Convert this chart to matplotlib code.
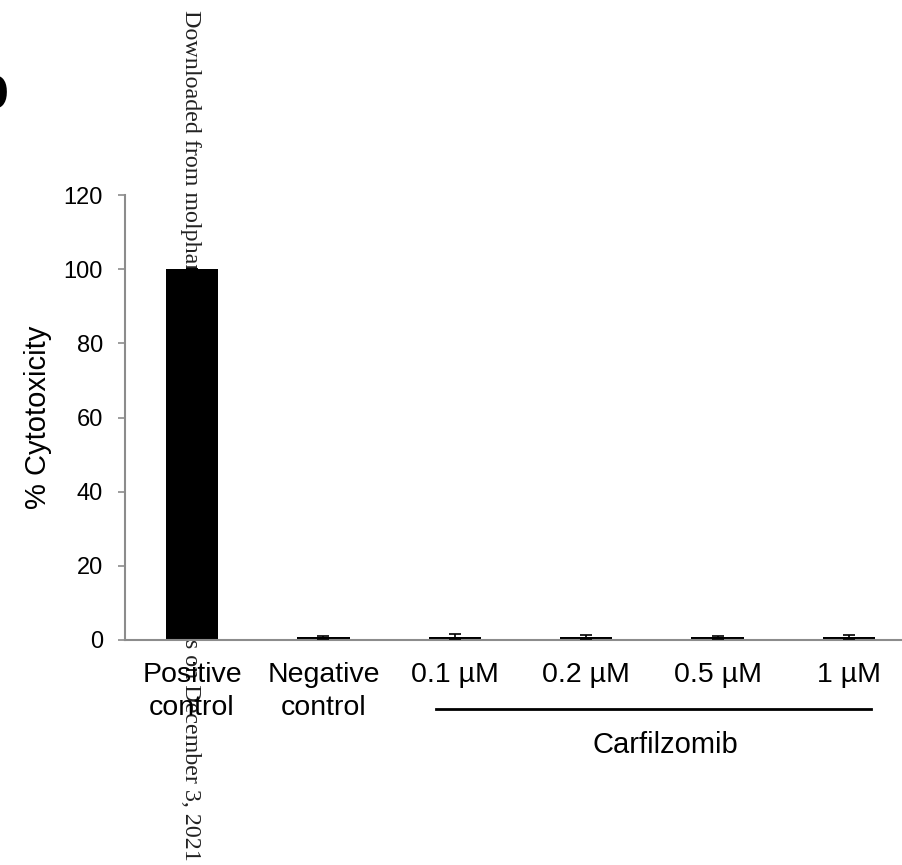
import matplotlib.pyplot as plt
import matplotlib.transforms as mtransforms

# data
categories = ["Positive\ncontrol", "Negative\ncontrol", "0.1 µM", "0.2 µM", "0.5 µM", "1 µM"]
cytotox = [100, 0.8, 0.9, 0.8, 0.7, 0.8]
cytotox_err = [0, 0.4, 0.6, 0.5, 0.3, 0.5]
yticks = [0, 20, 40, 60, 80, 100, 120]

plt.rcParams['font.family'] = ['Liberation Sans', 'DejaVu Sans']

fig = plt.figure(figsize=(9.02, 8.65), dpi=100)
ax = fig.add_axes([125 / 902, 225 / 865, 791 / 902, 445 / 865])

x = list(range(len(categories)))
ax.bar(x, cytotox, width=0.4, color="black", zorder=2)
ax.errorbar(x, cytotox, yerr=cytotox_err, fmt="none", ecolor="black",
            elinewidth=1.2, capsize=4, capthick=1.2, zorder=3)

ax.set_xlim(-0.51, len(categories) - 0.49)
ax.set_ylim(0, 120)
ax.set_yticks(yticks)
ax.set_xticks(x)
ax.set_xticklabels(categories, fontsize=20.5, linespacing=1.35)
ax.tick_params(axis="x", length=0, pad=16)
ax.tick_params(axis="y", length=5, width=1.2, color="#8c8c8c", labelsize=17, pad=11)
ax.set_ylabel("% Cytotoxicity", fontsize=21, labelpad=8)

for side in ["top", "right"]:
    ax.spines[side].set_visible(False)
for side in ["left", "bottom"]:
    ax.spines[side].set_color("#8c8c8c")
    ax.spines[side].set_linewidth(1.5)

# bracket under the carfilzomib doses
trans = mtransforms.blended_transform_factory(ax.transData, ax.transAxes)
ax.plot([2 - 0.14, 5 + 0.17], [-0.155, -0.155], color="black", lw=2,
        transform=trans, clip_on=False)
ax.text(3.6, -0.236, "Carfilzomib", fontsize=21, ha="center", va="center",
        transform=trans)

# journal watermark, partly hidden behind the first bar
ax.text(190 / 902, 1 - 10 / 865,
        "Downloaded from molpharm.aspetjournals.org at ASPET Journals on December 3, 2021",
        rotation=-90, ha="center", va="top", fontsize=17.3, family="Liberation Serif",
        color="#222222", transform=fig.transFigure, clip_on=False, zorder=1)

# panel letter, cut off at the left edge
fig.text(9 / 902, 1 - 92 / 865, "b", fontsize=44, fontweight="bold",
         ha="right", va="center")

fig.savefig("out.png", dpi=100)
